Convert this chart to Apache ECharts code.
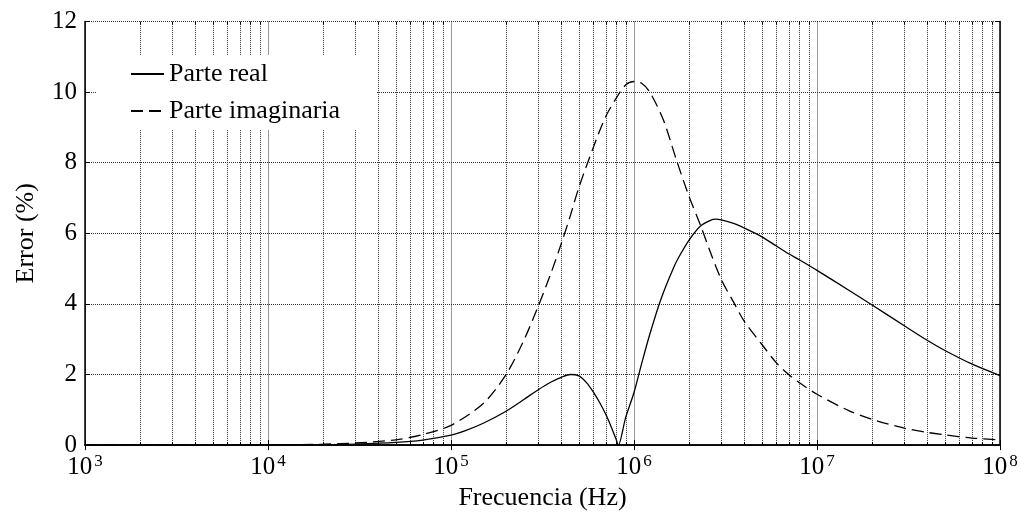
<!DOCTYPE html>
<html><head><meta charset="utf-8">
<script src="https://cdn.jsdelivr.net/npm/echarts@6/dist/echarts.min.js"></script>
<style>html,body{margin:0;padding:0;background:#fff}#c{width:1021px;height:516px}</style>
</head><body><div id="c"></div>
<script>
// Frequencies (Hz) and error values (%)
const realFreq = [1e3, 2e3, 5e3, 1e4, 2e4, 3e4, 5e4, 7e4, 1e5, 1.2e5, 1.5e5, 2e5, 2.5e5, 3e5, 3.5e5, 4e5, 4.5e5, 5e5, 5.5e5, 6e5, 6.5e5, 7e5, 7.5e5, 8e5, 8.2e5, 9e5, 1e6, 1.1e6, 1.22e6, 1.4e6, 1.65e6, 1.8e6, 2e6, 2.3e6, 2.6e6, 2.8e6, 3e6, 3.5e6, 4e6, 5e6, 6e6, 7e6, 8e6, 1e7, 1.5e7, 2e7, 3e7, 4e7, 5e7, 7e7, 1e8];
const realVals = [0, 0, 0.001, 0.004, 0.013, 0.03, 0.075, 0.14, 0.28, 0.41, 0.62, 0.96, 1.29, 1.57, 1.78, 1.92, 2.0, 1.96, 1.77, 1.5, 1.2, 0.88, 0.52, 0.15, 0, 0.78, 1.49, 2.3, 3.14, 4.12, 5.04, 5.42, 5.81, 6.2, 6.36, 6.4, 6.38, 6.28, 6.15, 5.9, 5.64, 5.42, 5.25, 4.95, 4.38, 3.97, 3.38, 2.97, 2.68, 2.3, 1.97];
const imagFreq = [1e3, 2e3, 5e3, 1e4, 2e4, 3e4, 5e4, 7e4, 1e5, 1.5e5, 2e5, 2.5e5, 3e5, 3.5e5, 4e5, 4.5e5, 5e5, 6e5, 7e5, 8e5, 9e5, 1e6, 1.1e6, 1.22e6, 1.45e6, 1.7e6, 2e6, 2.3e6, 2.6e6, 3e6, 3.5e6, 4e6, 5e6, 6e6, 7e6, 8e6, 1e7, 1.5e7, 2e7, 3e7, 4e7, 5e7, 7e7, 1e8];
const imagVals = [0, 0, 0.002, 0.006, 0.025, 0.06, 0.15, 0.3, 0.56, 1.18, 2.0, 2.97, 3.94, 4.84, 5.7, 6.52, 7.3, 8.44, 9.3, 9.83, 10.2, 10.3, 10.25, 10.0, 9.2, 8.1, 7.04, 6.25, 5.5, 4.69, 4.05, 3.51, 2.85, 2.33, 2.0, 1.77, 1.44, 0.97, 0.73, 0.48, 0.36, 0.29, 0.2, 0.15];
const seriesNames = ['Parte real', 'Parte imaginaria'];
const yTicks = [0, 2, 4, 6, 8, 10, 12];
const decades = [3, 4, 5, 6, 7];
const minorMult = [2, 3, 4, 5, 6, 7, 8, 9];

const FONT = 'Liberation Serif';
const GRID_COLOR = '#333';
const GRID_STYLE = {color: GRID_COLOR, width: 1, type: [1, 1]};
const minorFreqs = [];
decades.forEach(d => minorMult.forEach(m => minorFreqs.push([m * Math.pow(10, d), 0])));

const chart = echarts.init(document.getElementById('c'), null, {renderer: 'canvas'});
const axisCommon = {
  axisLine: {show: true, lineStyle: {color: '#000', width: 1.5}},
  axisTick: {show: true, inside: true, length: 5, lineStyle: {color: '#000', width: 1}}
};
chart.setOption({
  animation: false,
  backgroundColor: '#fff',
  textStyle: {fontFamily: FONT, color: '#000'},
  grid: {left: 85, right: 21, top: 21.5, bottom: 70, containLabel: false},
  legend: {
    data: seriesNames, orient: 'vertical', left: 97, top: 55,
    padding: [6, 36, 6, 33], backgroundColor: '#fff', itemWidth: 33, itemHeight: 26, itemGap: 11,
    itemStyle: {color: 'rgba(0,0,0,0)', borderWidth: 0, opacity: 0},
    textStyle: {fontFamily: FONT, fontSize: 26, color: '#000'}
  },
  xAxis: [{
    type: 'log', logBase: 10, min: 1e3, max: 1e8, position: 'bottom',
    name: 'Frecuencia (Hz)', nameLocation: 'middle', nameGap: 38,
    nameTextStyle: {fontFamily: FONT, fontSize: 26, color: '#000'},
    ...axisCommon,
    axisLabel: {
      margin: 8, color: '#000', fontFamily: FONT, fontSize: 25,
      formatter: v => '10{s|' + Math.round(Math.log10(v)) + '}',
      rich: {s: {fontSize: 17, fontFamily: FONT, color: '#000', padding: [0, 0, 12, 2]}}
    },
    splitLine: {show: true, lineStyle: GRID_STYLE}
  }, {
    type: 'log', logBase: 10, min: 1e3, max: 1e8, position: 'top',
    ...axisCommon, axisLabel: {show: false}, splitLine: {show: false}
  }],
  yAxis: [{
    type: 'value', min: 0, max: 12, interval: 2, position: 'left',
    name: 'Error (%)', nameLocation: 'middle', nameGap: 46,
    nameTextStyle: {fontFamily: FONT, fontSize: 26, color: '#000'},
    ...axisCommon,
    axisLabel: {margin: 8, color: '#000', fontFamily: FONT, fontSize: 25,
      formatter: v => yTicks.includes(v) ? String(v) : ''},
    splitLine: {show: true, lineStyle: GRID_STYLE}
  }, {
    type: 'value', min: 0, max: 12, interval: 2, position: 'right',
    ...axisCommon, axisLabel: {show: false}, splitLine: {show: false}
  }],
  series: [{
    type: 'custom', silent: true, z: 1, xAxisIndex: 0, yAxisIndex: 0,
    data: minorFreqs, encode: {x: 0, y: 1},
    renderItem: (params, api) => {
      const f = api.value(0);
      const p0 = api.coord([f, 0]);
      const p1 = api.coord([f, 12]);
      const x = Math.round(p0[0]) + 0.5;
      return {type: 'group', children: [
        {type: 'line', shape: {x1: x, y1: p0[1], x2: x, y2: p1[1]}, style: {stroke: GRID_COLOR, lineWidth: 1, lineDash: [1, 1]}},
        {type: 'line', shape: {x1: x, y1: p0[1], x2: x, y2: p0[1] - 3}, style: {stroke: '#000', lineWidth: 1}},
        {type: 'line', shape: {x1: x, y1: p1[1], x2: x, y2: p1[1] + 3}, style: {stroke: '#000', lineWidth: 1}}
      ]};
    }
  }, {
    name: seriesNames[0], type: 'line', z: 3, symbol: 'none', smooth: 0.3,
    data: realFreq.map((f, i) => [f, realVals[i]]),
    lineStyle: {color: '#000', width: 1.3, type: 'solid'}, itemStyle: {color: '#000'}
  }, {
    name: seriesNames[1], type: 'line', z: 3, symbol: 'none', smooth: 0.3,
    data: imagFreq.map((f, i) => [f, imagVals[i]]),
    lineStyle: {color: '#000', width: 1.3, type: [12, 6]}, itemStyle: {color: '#000'}
  }]
});
</script></body></html>
